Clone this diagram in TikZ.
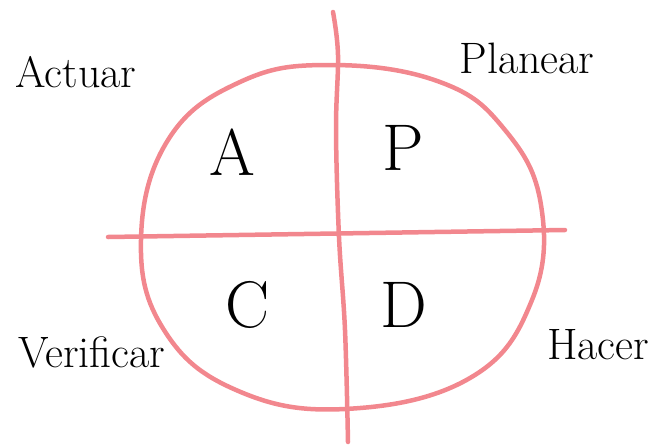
\documentclass[tikz,border=0pt]{standalone}
\usetikzlibrary{positioning}
\definecolor{penred}{RGB}{242,135,142}
\begin{document}
\begin{tikzpicture}[
  x=1pt, y=-1pt,
  stroke/.style={penred, line width=4.5pt, line cap=round, line join=round},
  word/.style={font=\fontsize{44}{50}\selectfont, inner sep=0pt},
  letter/.style={font=\fontsize{66}{72}\selectfont, inner sep=0pt},
]
  \useasboundingbox (0,0) rectangle (657,445);

  % Circle
  \draw[stroke] plot[smooth cycle, tension=0.7] coordinates {
    (330,65) (440,82) (505,130) (541,205) (532,300) (470,378)
    (345,409) (236,390) (164,330) (141,240) (168,140) (240,82)};

  % Axes
  \coordinate (hl) at (108,237);
  \coordinate (hr) at (565,230);
  \draw[stroke] (hl) -- (hr);
  \draw[stroke] plot[smooth, tension=0.6] coordinates {
    (333,12) (338,55) (336,130) (339,237) (345,330) (348,442)};

  % Quadrant letters
  \node[letter] (a) at (232,152) {A};
  \node[letter] (p) at (403,148) {P};
  \node[letter] (c) at (248,305) {C};
  \node[letter] (d) at (404,305) {D};

  % Phase names
  \node[word] (act) at (76,72) {Actuar};
  \node[word] (plan) at (527,58) {Planear};
  \node[word] (ver) at (92,352) {Verificar};
  \node[word] (hac) at (598,345) {Hacer};
\end{tikzpicture}
\end{document}
